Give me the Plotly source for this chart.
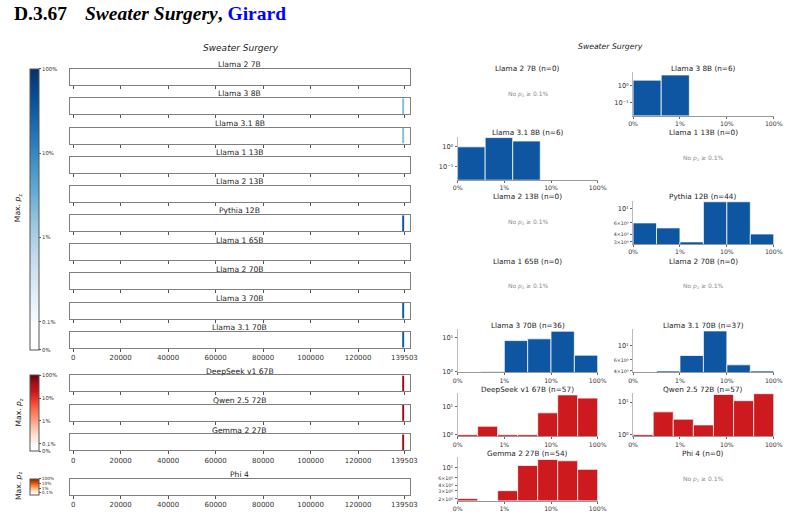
import math
import plotly.graph_objects as go

W, H = 797, 519
N_TOKENS = 139503

# ---------------- data ----------------
models = ["Llama 2 7B", "Llama 3 8B", "Llama 3.1 8B", "Llama 1 13B", "Llama 2 13B",
          "Pythia 12B", "Llama 1 65B", "Llama 2 70B", "Llama 3 70B", "Llama 3.1 70B",
          "DeepSeek v1 67B", "Qwen 2.5 72B", "Gemma 2 27B", "Phi 4"]
model_group = ["blue"] * 10 + ["red"] * 3 + ["orange"]

# extraction events along the book: token span and max p_z
event_start = {"Llama 3 8B": [138700], "Llama 3.1 8B": [138700], "Pythia 12B": [138700],
               "Llama 3 70B": [138600], "Llama 3.1 70B": [138600],
               "DeepSeek v1 67B": [138400], "Qwen 2.5 72B": [138400], "Gemma 2 27B": [138400]}
event_end = {k: [N_TOKENS] for k in event_start}
event_p = {"Llama 3 8B": [0.02], "Llama 3.1 8B": [0.02], "Pythia 12B": [0.35],
           "Llama 3 70B": [0.3], "Llama 3.1 70B": [0.3],
           "DeepSeek v1 67B": [0.45], "Qwen 2.5 72B": [0.45], "Gemma 2 27B": [0.45]}

# histograms of p_z (x on log10(p)+3 scale: 0.1%->0 ... 100%->3)
hist_n = {"Llama 2 7B": 0, "Llama 3 8B": 6, "Llama 3.1 8B": 6, "Llama 1 13B": 0,
          "Llama 2 13B": 0, "Pythia 12B": 44, "Llama 1 65B": 0, "Llama 2 70B": 0,
          "Llama 3 70B": 36, "Llama 3.1 70B": 37, "DeepSeek v1 67B": 57,
          "Qwen 2.5 72B": 57, "Gemma 2 27B": 54, "Phi 4": 0}
hist_counts = {"Llama 3 8B": [2, 4],
               "Llama 3.1 8B": [1, 3, 2],
               "Pythia 12B": [6, 5, 3, 13, 13, 4],
               "Llama 3 70B": [0, 1, 8, 9, 15, 3],
               "Llama 3.1 70B": [0, 4, 7, 17, 5, 4],
               "DeepSeek v1 67B": [1, 2, 1, 1, 6, 26, 20],
               "Qwen 2.5 72B": [1, 5, 3, 2, 17, 11, 18],
               "Gemma 2 27B": [2, 0, 3, 11, 15, 14, 9]}
hist_upper = {"Llama 3 8B": 1.2, "Llama 3.1 8B": 1.77, "Pythia 12B": 3.0,
              "Llama 3 70B": 3.0, "Llama 3.1 70B": 3.0, "DeepSeek v1 67B": 3.0,
              "Qwen 2.5 72B": 3.0, "Gemma 2 27B": 3.0}
hist_yrange = {"Llama 3 8B": [-1.77, 0.75], "Llama 3.1 8B": [-1.7, 0.53],
               "Pythia 12B": [0.445, 1.13], "Llama 3 70B": [-0.02, 1.24],
               "Llama 3.1 70B": [0.583, 1.26], "DeepSeek v1 67B": [-0.058, 1.475],
               "Qwen 2.5 72B": [-0.05, 1.27], "Gemma 2 27B": [0.257, 1.223]}
hist_yticks = {"Llama 3 8B": [0.1, 1], "Llama 3.1 8B": [0.1, 1],
               "Pythia 12B": [3, 4, 6, 10], "Llama 3 70B": [1, 10],
               "Llama 3.1 70B": [4, 6, 10], "DeepSeek v1 67B": [1, 10],
               "Qwen 2.5 72B": [1, 10], "Gemma 2 27B": [2, 3, 4, 6, 10]}

x_tick_vals = [0, 20000, 40000, 60000, 80000, 100000, 120000, N_TOKENS]
pct_tick_vals = [0, 1, 2, 3]
pct_tick_text = ["0%", "1%", "10%", "100%"]
cbar_tick_vals = [-1 / 3, 0, 1, 2, 3]
cbar_tick_text = ["0%", "0.1%", "1%", "10%", "100%"]

BLUES = ['#f7fbff', '#deebf7', '#c6dbef', '#9ecae1', '#6baed6', '#4292c6', '#2171b5', '#08519c', '#08306b']
REDS = ['#fff5f0', '#fee0d2', '#fcbba1', '#fc9272', '#fb6a4a', '#ef3b2c', '#cb181d', '#a50f15', '#67000d']
ORANGES = ['#fff5eb', '#fee6ce', '#fdd0a2', '#fdae6b', '#fd8d3c', '#f16913', '#d94801', '#a63603', '#7f2704']
BAR_COLOR = {"blue": "#0e56a1", "red": "#cc1a1f"}

FONT = "DejaVu Sans"


def zt(p):
    return math.log10(p) + 3 if p >= 0.001 else -1 / 3


def cscale(cols):
    s = [[0, "white"], [0.0999, "white"]]
    for k, c in enumerate(cols):
        s.append([0.1 + 0.9 * k / 8, c])
    return s


def fx(px):
    return px / W


def fy(py):
    return 1 - py / H


def sup(s):
    table = str.maketrans("-0123456789", "⁻⁰¹²³⁴⁵⁶⁷⁸⁹")
    return s.translate(table)


def log_label(v):
    e = int(math.floor(math.log10(v) + 1e-9))
    m = v / 10 ** e
    if abs(m - 1) < 1e-9:
        return "10" + sup(str(e))
    return '<span style="font-size:4.8px">%d×10%s</span>' % (round(m), sup(str(e)))


fig = go.Figure()
layout = {}
annotations = []

# ---------------- left panel: strips ----------------
strip_tops = [69.3, 99.0, 128.5, 158.0, 187.5, 216.9, 246.2, 275.5, 305.0, 334.2,
              378.3, 408.0, 437.7, 482.5]
STRIP_H = 16.2
SX0, SX1 = 66.0, 412.3
caxis_of = {"blue": "coloraxis", "red": "coloraxis2", "orange": "coloraxis3"}
last_in_group = {"Llama 3.1 70B", "Gemma 2 27B", "Phi 4"}

for i, m in enumerate(models):
    k = i + 1
    xa = "xaxis" if k == 1 else "xaxis%d" % k
    ya = "yaxis" if k == 1 else "yaxis%d" % k
    xr = "x" if k == 1 else "x%d" % k
    yr = "y" if k == 1 else "y%d" % k
    top = strip_tops[i]
    bot = top + STRIP_H
    layout[xa] = dict(domain=[fx(SX0), fx(SX1)], range=[-0.01 * N_TOKENS, 1.017 * N_TOKENS],
                      anchor=yr, showline=True, mirror=True, linecolor="#7f7f7f", linewidth=1,
                      ticks="outside", ticklen=3, tickwidth=1, tickcolor="#555",
                      tickvals=x_tick_vals, ticktext=[str(v) for v in x_tick_vals],
                      showticklabels=m in last_in_group,
                      tickfont=dict(size=7, color="#333", family=FONT),
                      showgrid=False, zeroline=False, fixedrange=True)
    layout[ya] = dict(domain=[fy(bot), fy(top)], range=[0, 1], anchor=xr,
                      showline=True, mirror=True, linecolor="#7f7f7f", linewidth=1,
                      showticklabels=False, ticks="", showgrid=False, zeroline=False)
    # heatmap cells from events
    edges = [0]
    zrow = []
    for s, e, p in zip(event_start.get(m, []), event_end.get(m, []), event_p.get(m, [])):
        if s > edges[-1]:
            zrow.append(None)
            edges.append(s)
        zrow.append(zt(p))
        edges.append(e)
    if edges[-1] < N_TOKENS:
        zrow.append(None)
        edges.append(N_TOKENS)
    ca = caxis_of[model_group[i]]
    fig.add_trace(go.Heatmap(x=edges, y=[0, 1], z=[zrow], xaxis=xr, yaxis=yr,
                             coloraxis=ca, hoverinfo="skip"))
    if all(v is None for v in zrow):
        # colour key carrier (no visible points) so the group's colour bar is drawn
        fig.add_trace(go.Scatter(x=[None] * len(cbar_tick_vals), y=[None] * len(cbar_tick_vals),
                                 mode="markers", xaxis=xr, yaxis=yr, hoverinfo="skip",
                                 marker=dict(color=cbar_tick_vals, coloraxis=ca)))
    annotations.append(dict(x=fx((SX0 + SX1) / 2), y=fy(top - 4.3), xref="paper", yref="paper",
                            text=m, showarrow=False, xanchor="center", yanchor="middle",
                            font=dict(size=7.6, color="#222", family=FONT)))


def cbar(top, bot, cols, vals, texts, fsize):
    return dict(cmin=-1 / 3, cmax=3, colorscale=cscale(cols),
                colorbar=dict(x=fx(25), xanchor="left", y=fy(top), yanchor="top",
                              len=bot - top, lenmode="pixels", thickness=9,
                              xpad=0, ypad=0, outlinewidth=1, outlinecolor="#555",
                              tickvals=vals, ticktext=texts, ticks="outside", ticklen=2,
                              tickcolor="#555",
                              tickfont=dict(size=fsize, color="#333", family=FONT)))


layout["coloraxis"] = cbar(69.3, 350.5, BLUES, cbar_tick_vals, cbar_tick_text, 5.3)
layout["coloraxis2"] = cbar(378.3, 454.5, REDS, cbar_tick_vals, cbar_tick_text, 5.3)
layout["coloraxis3"] = cbar(482.3, 498.3, ORANGES, cbar_tick_vals[1:], cbar_tick_text[1:], 4.3)

for cy in [210, 416, 490]:
    annotations.append(dict(x=fx(14), y=fy(cy), xref="paper", yref="paper",
                            text="Max. <i>p</i><sub>z</sub>", showarrow=False, textangle=-90,
                            xanchor="center", yanchor="middle",
                            font=dict(size=7.6, color="#222", family=FONT)))

# ---------------- right panel: histograms ----------------
COLS = [(460.7, 603.3), (639.3, 782.5)]
ROW0, ROW_STEP, HIST_H = 73.0, 64.65, 43.5
for j, m in enumerate(models):
    r, c = divmod(j, 2)
    top = ROW0 + ROW_STEP * r
    bot = top + HIST_H
    x0, x1 = COLS[c]
    k = 15 + j
    xa, ya, xr, yr = "xaxis%d" % k, "yaxis%d" % k, "x%d" % k, "y%d" % k
    annotations.append(dict(x=fx((x0 + x1) / 2), y=fy(top - 3.8), xref="paper", yref="paper",
                            text="%s (n=%d)" % (m, hist_n[m]), showarrow=False,
                            xanchor="center", yanchor="middle",
                            font=dict(size=7.3, color="#222", family=FONT)))
    if hist_n[m] == 0:
        annotations.append(dict(x=fx((x0 + x1) / 2), y=fy((top + bot) / 2), xref="paper",
                                yref="paper", text="No <i>p</i><sub>z</sub> ≥ 0.1%",
                                showarrow=False, xanchor="center", yanchor="middle",
                                font=dict(size=6, color="#8a8a8a", family=FONT)))
        continue
    counts = hist_counts[m]
    nb = len(counts)
    bw = hist_upper[m] / nb
    centers = [bw * (b + 0.5) for b in range(nb)]
    grp = model_group[j]
    fig.add_trace(go.Bar(x=centers, y=[v if v > 0 else None for v in counts], width=[bw] * nb,
                         xaxis=xr, yaxis=yr, hoverinfo="skip",
                         marker=dict(color=BAR_COLOR[grp],
                                     line=dict(color="rgba(255,255,255,0.75)", width=1))))
    layout[xa] = dict(domain=[fx(x0), fx(x1)], range=[0, 3], anchor=yr,
                      tickvals=pct_tick_vals, ticktext=pct_tick_text,
                      ticks="outside", ticklen=2, tickcolor="#666",
                      tickfont=dict(size=6.2, color="#333", family=FONT),
                      showline=True, linecolor="#999", linewidth=1,
                      showgrid=False, zeroline=False)
    tv = hist_yticks[m]
    layout[ya] = dict(domain=[fy(bot), fy(top)], type="log", range=hist_yrange[m], anchor=xr,
                      tickvals=tv, ticktext=[log_label(v) for v in tv],
                      ticks="outside", ticklen=2, tickcolor="#666",
                      tickfont=dict(size=6.6, color="#333", family=FONT),
                      showline=True, linecolor="#bbb", linewidth=1,
                      showgrid=False, zeroline=False)

# ---------------- titles ----------------
annotations.append(dict(x=fx(7), y=fy(13.5), xref="paper", yref="paper", text="<b>D.3.67</b>",
                        showarrow=False, xanchor="left", yanchor="middle",
                        font=dict(size=19.5, color="black", family="Liberation Serif")))
annotations.append(dict(x=fx(79), y=fy(13.5), xref="paper", yref="paper",
                        text="<b><i>Sweater Surgery</i>, </b><b><span style='color:#0000ff'>Girard</span></b>",
                        showarrow=False, xanchor="left", yanchor="middle",
                        font=dict(size=19.5, color="black", family="Liberation Serif")))
annotations.append(dict(x=fx(240), y=fy(48.5), xref="paper", yref="paper",
                        text="<i>Sweater Surgery</i>", showarrow=False,
                        xanchor="center", yanchor="middle",
                        font=dict(size=9, color="#222", family=FONT)))
annotations.append(dict(x=fx(616), y=fy(47), xref="paper", yref="paper",
                        text="<i>Sweater Surgery</i>", showarrow=False,
                        xanchor="center", yanchor="middle",
                        font=dict(size=7.7, color="#222", family=FONT)))

fig.update_layout(width=W, height=H, margin=dict(l=0, r=0, t=0, b=0),
                  paper_bgcolor="white", plot_bgcolor="white", showlegend=False,
                  barmode="overlay", annotations=annotations, **layout)
fig.write_html("out.html")
